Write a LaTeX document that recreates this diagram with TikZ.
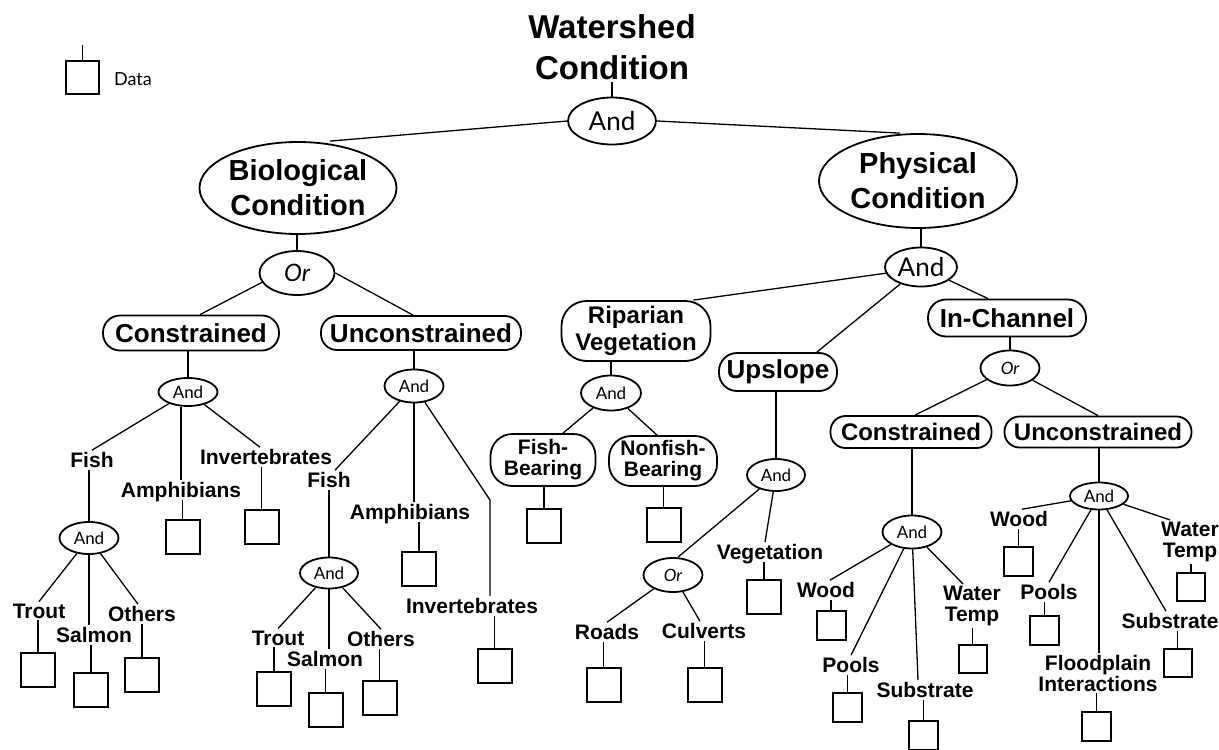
\documentclass[tikz,border=0pt]{standalone}
\usepackage{fontspec}
\setmainfont{Liberation Sans}
\newfontfamily\handfont{Lato}
\usetikzlibrary{shapes.geometric}
\tikzset{
 conn/.style={line width=1.3pt},
 gate/.style={ellipse, draw, line width=1.8pt, inner sep=0pt, font=\handfont\fontsize{17}{17}\selectfont},
 orgate/.style={gate, font=\handfont\itshape\fontsize{17}{17}\selectfont},
 biggate/.style={gate, font=\handfont\fontsize{26}{26}\selectfont},
 cond/.style={ellipse, draw, line width=1.8pt, inner sep=0pt, align=center, font=\bfseries\fontsize{29}{35}\selectfont},
 pill/.style={draw, rectangle, rounded corners=#1, line width=1.8pt, inner sep=0pt, align=center},
 bigtxt/.style={font=\bfseries\fontsize{26}{26}\selectfont},
 midtxt/.style={font=\bfseries\fontsize{24}{27}\selectfont},
 leaf/.style={inner sep=2pt, align=center, font=\bfseries\fontsize{21}{21}\selectfont},
 leafone/.style={inner sep=2pt, text depth=0pt, font=\bfseries\fontsize{21}{21}\selectfont},
 databox/.style={draw, rectangle, line width=2pt, minimum width=#1, minimum height=#1, inner sep=0pt},
}
\begin{document}
\begin{tikzpicture}[x=1pt,y=-1pt]
\fill[white] (0,0) rectangle (1219,750);
\useasboundingbox (0,0) rectangle (1219,750);

% title and legend
\node[font=\bfseries\fontsize{33}{41}\selectfont, align=center, inner sep=2pt] (title) at (612,47) {Watershed\\Condition};
\node[databox=33pt] (legbox) at (82.5,77.5) {};
\coordinate (legtop) at (82.5,45);
\draw[conn] (legbox.north) -- (legtop);
\node[font=\handfont\fontsize{18}{18}\selectfont] (data) at (133,79) {Data};

\node[biggate, minimum width=88pt, minimum height=47pt] (topand) at (612,121) {And};
\node[cond, minimum width=197pt, minimum height=92pt] (bio) at (298,188) {Biological\\Condition};
\node[cond, minimum width=198pt, minimum height=94pt] (phys) at (918,181) {Physical\\Condition};

% biological side
\node[gate, font=\handfont\itshape\fontsize{24}{24}\selectfont, minimum width=75pt, minimum height=44pt] (bor) at (297,273) {Or};
\node[pill=17pt, bigtxt, minimum width=176pt, minimum height=35pt] (lcon) at (191,333) {Constrained};
\node[pill=16pt, bigtxt, minimum width=200pt, minimum height=34pt] (lunc) at (421,333) {Unconstrained};
\node[gate, minimum width=59pt, minimum height=28pt] (lcand) at (188,392) {And};
\node[gate, minimum width=59pt, minimum height=33pt] (luand) at (414,386) {And};

\node[leafone] (lcfish) at (92,460) {Fish};
\node[leafone] (lcamph) at (181,490) {Amphibians};
\node[leafone] (lcinv) at (266,457) {Invertebrates};
\node[databox=34pt] (lcinvbox) at (261.5,526.5) {};
\node[databox=34pt] (lcamphbox) at (182.5,537) {};
\node[gate, minimum width=59pt, minimum height=32pt] (lcfand) at (89,538) {And};
\node[leafone] (trout1) at (39,611) {Trout};
\node[leafone] (salmon1) at (94,635) {Salmon};
\node[leafone] (others1) at (142,614) {Others};
\node[databox=34pt] (trout1box) at (38,669.5) {};
\node[databox=34pt] (salmon1box) at (91,689.5) {};
\node[databox=34pt] (others1box) at (142,675) {};

\node[leafone] (lufish) at (329,480) {Fish};
\node[leafone] (luamph) at (410,512) {Amphibians};
\node[leafone] (luinv) at (472,606) {Invertebrates};
\coordinate (lubend) at (490,500);
\node[gate, minimum width=58pt, minimum height=31pt] (lufand) at (329,573) {And};
\node[databox=34pt] (luamphbox) at (419,569) {};
\node[databox=34pt] (luinvbox) at (494.5,665.5) {};
\node[leafone] (trout2) at (278,638) {Trout};
\node[leafone] (salmon2) at (325,659) {Salmon};
\node[leafone] (others2) at (381,639) {Others};
\node[databox=34pt] (trout2box) at (274,689) {};
\node[databox=34pt] (salmon2box) at (325.5,710) {};
\node[databox=34pt] (others2box) at (379.5,697.5) {};

% physical side
\node[biggate, minimum width=72pt, minimum height=39pt] (pand) at (921,267) {And};
\node[pill=25pt, midtxt, minimum width=149pt, minimum height=60pt] (rip) at (636,331) {Riparian\\Vegetation};
\node[pill=18pt, bigtxt, minimum width=118pt, minimum height=38pt] (ups) at (778,372) {Upslope};
\node[pill=18pt, bigtxt, minimum width=158pt, minimum height=37pt] (inch) at (1007,318) {In-Channel};
\node[orgate, minimum width=59pt, minimum height=35pt] (ror) at (1010,368) {Or};
\node[pill=15pt, midtxt, minimum width=161pt, minimum height=32pt] (rcon) at (911,432) {Constrained};
\node[pill=15pt, midtxt, minimum width=187pt, minimum height=31pt] (runc) at (1098,432) {Unconstrained};

\node[gate, minimum width=60pt, minimum height=35pt] (ripand) at (611,393) {And};
\node[pill=22pt, leaf, inner sep=0pt, minimum width=105pt, minimum height=52pt, line width=1.8pt, draw] (fb) at (543,460) {Fish-\\Bearing};
\node[pill=22pt, leaf, inner sep=0pt, minimum width=108pt, minimum height=50pt, line width=1.8pt, draw] (nfb) at (663,461) {Nonfish-\\Bearing};
\node[databox=34pt] (fbbox) at (544,526) {};
\node[databox=34pt] (nfbbox) at (663.5,525) {};

\node[gate, minimum width=58pt, minimum height=32pt] (upand) at (776,475) {And};
\node[orgate, minimum width=59pt, minimum height=34pt] (upor) at (673,575) {Or};
\node[leafone] (veg) at (770,552) {Vegetation};
\node[databox=34pt] (vegbox) at (764,596.5) {};
\node[leafone] (roads) at (607,632) {Roads};
\node[databox=34pt] (roadsbox) at (603.5,685) {};
\node[leafone] (culv) at (704,631) {Culverts};
\node[databox=34pt] (culvbox) at (704.5,685) {};

\node[gate, minimum width=59pt, minimum height=33pt] (rcand) at (912,532) {And};
\node[leafone] (wood1) at (826,590) {Wood};
\node[databox=29pt] (wood1box) at (831,625) {};
\node[leafone] (pools1) at (851,665) {Pools};
\node[databox=29pt] (pools1box) at (847.5,707.5) {};
\node[leafone] (sub1) at (925,690) {Substrate};
\node[databox=29pt] (sub1box) at (923.5,735) {};
\node[leaf] (water1) at (972,606) {Water\\Temp};
\node[databox=28pt] (water1box) at (972.5,659) {};

\node[gate, minimum width=58pt, minimum height=27pt] (runcand) at (1099,496) {And};
\node[leafone] (wood2) at (1019,519) {Wood};
\node[databox=29pt] (wood2box) at (1018.5,561) {};
\node[leafone] (pools2) at (1049,592) {Pools};
\node[databox=29pt] (pools2box) at (1044.5,630) {};
\node[leaf] (flood) at (1098,673) {Floodplain\\Interactions};
\node[databox=29pt] (floodbox) at (1096.5,726) {};
\node[leafone] (sub2) at (1170,621) {Substrate};
\node[databox=28pt] (sub2box) at (1177.5,662.5) {};
\node[leaf] (water2) at (1190,542) {Water\\Temp};
\node[databox=28pt] (water2box) at (1191,587) {};

% connectors: top
\draw[conn] (topand.north) -- (topand.north |- title.south);
\draw[conn] (topand.west) -- ([xshift=32pt]bio.north);
\draw[conn] (topand.east) -- ([xshift=-18pt]phys.north);

% biological
\draw[conn] (bor.north) -- (bor.north |- bio.south);
\draw[conn] (bor.195) -- ([xshift=9pt]lcon.north);
\draw[conn] (bor.east) -- ([xshift=-8pt]lunc.north);
\draw[conn] (lcand.north) -- (lcand.north |- lcon.south);
\draw[conn] (luand.north) -- (luand.north |- lunc.south);

\draw[conn] (lcand) -- (lcfish.north);
\draw[conn] (lcamph.north) -- (lcamph.north |- lcand.south);
\draw[conn] (lcand) -- ([xshift=-6pt]lcinv.north);
\draw[conn] (lcfand.north) -- (lcfand.north |- lcfish.south);
\draw[conn] (lcinvbox.north) -- (lcinvbox.north |- lcinv.south);
\draw[conn] (lcamphbox.north) -- (lcamphbox.north |- lcamph.south);
\draw[conn] (lcfand) -- (trout1.north);
\draw[conn] (lcfand.south) -- (lcfand.south |- salmon1.north);
\draw[conn] (lcfand) -- ([xshift=-4pt]others1.north);
\draw[conn] (trout1box.north) -- (trout1box.north |- trout1.south);
\draw[conn] (salmon1box.north) -- (salmon1box.north |- salmon1.south);
\draw[conn] (others1box.north) -- (others1box.north |- others1.south);

\draw[conn] (luand) -- ([xshift=6pt]lufish.north);
\draw[conn] (luand.south) -- (luand.south |- luamph.north);
\draw[conn] (luand) -- (lubend) -- (lubend |- luinv.north);
\draw[conn] (lufand.north) -- (lufand.north |- lufish.south);
\draw[conn] (luamphbox.north) -- (luamphbox.north |- luamph.south);
\draw[conn] (luinvbox.north) -- (luinvbox.north |- luinv.south);
\draw[conn] (lufand) -- (trout2.north);
\draw[conn] (lufand.south) -- (lufand.south |- salmon2.north);
\draw[conn] (lufand) -- (others2.north);
\draw[conn] (trout2box.north) -- (trout2box.north |- trout2.south);
\draw[conn] (salmon2box.north) -- (salmon2box.north |- salmon2.south);
\draw[conn] (others2box.north) -- (others2box.north |- others2.south);

% physical
\draw[conn] (pand.north) -- (pand.north |- phys.south);
\draw[conn] (pand.190) -- ([xshift=-18pt]rip.north east);
\draw[conn] (pand) -- ([xshift=-21pt]ups.north east);
\draw[conn] (pand) -- ([xshift=-19pt]inch.north);
\draw[conn] (ror.north) -- (ror.north |- inch.south);
\draw[conn] (ror) -- ([xshift=4pt]rcon.north);
\draw[conn] (ror) -- (runc.north);

\draw[conn] (ripand.north) -- (ripand.north |- rip.south);
\draw[conn] (ripand) -- ([xshift=20pt]fb.north);
\draw[conn] (ripand) -- ([xshift=-6pt]nfb.north);
\draw[conn] (fbbox.north) -- (fbbox.north |- fb.south);
\draw[conn] (nfbbox.north) -- (nfbbox.north |- nfb.south);

\draw[conn] (upand.north) -- (upand.north |- ups.south);
\draw[conn] (upand) -- ([xshift=5pt]upor.north);
\draw[conn] (upand) -- ([xshift=-5pt]veg.north);
\draw[conn] (vegbox.north) -- (vegbox.north |- veg.south);
\draw[conn] (upor) -- (roads.north);
\draw[conn] (upor) -- ([xshift=-4pt]culv.north);
\draw[conn] (roadsbox.north) -- (roadsbox.north |- roads.south);
\draw[conn] (culvbox.north) -- (culvbox.north |- culv.south);

\draw[conn] (rcand.north) -- (rcand.north |- rcon.south);
\draw[conn] (rcand) -- ([xshift=4pt]wood1.north);
\draw[conn] (rcand) -- (pools1.north);
\draw[conn] (rcand) -- ([xshift=-7pt]sub1.north);
\draw[conn] (rcand) -- ([xshift=-9pt]water1.north);
\draw[conn] (wood1box.north) -- (wood1box.north |- wood1.south);
\draw[conn] (pools1box.north) -- (pools1box.north |- pools1.south);
\draw[conn] (sub1box.north) -- (sub1box.north |- sub1.south);
\draw[conn] (water1box.north) -- (water1box.north |- water1.south);

\draw[conn] (runcand.north) -- (runcand.north |- runc.south);
\draw[conn] (runcand) -- ([xshift=3pt]wood2.north);
\draw[conn] (runcand) -- (pools2.north);
\draw[conn] (runcand.south) -- (runcand.south |- flood.north);
\draw[conn] (runcand) -- ([xshift=-4pt]sub2.north);
\draw[conn] (runcand) -- ([xshift=-20pt]water2.north);
\draw[conn] (wood2box.north) -- (wood2box.north |- wood2.south);
\draw[conn] (pools2box.north) -- (pools2box.north |- pools2.south);
\draw[conn] (floodbox.north) -- (floodbox.north |- flood.south);
\draw[conn] (sub2box.north) -- (sub2box.north |- sub2.south);
\draw[conn] (water2box.north) -- (water2box.north |- water2.south);
\end{tikzpicture}
\end{document}
